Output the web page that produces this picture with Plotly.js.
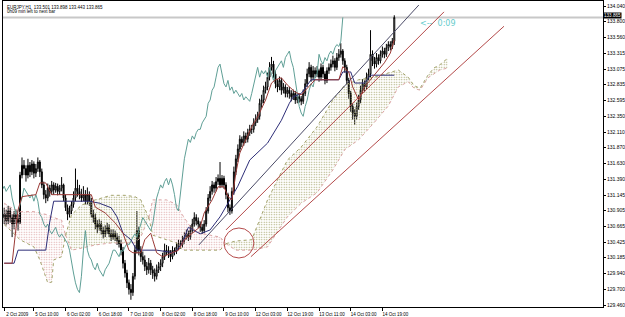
<!DOCTYPE html>
<html><head><meta charset="utf-8">
<script src="https://cdn.plot.ly/plotly-3.0.1.min.js"></script>
<style>html,body{margin:0;padding:0;background:#fff}#c{width:625px;height:317px}</style>
</head><body><div id="c"></div>
<script>
// ---- EURJPY H1 candles (bar 0 = 2 Oct 2009) ----
const opens = [130.80,130.85,130.75,130.90,130.80,130.70,130.85,130.78,130.72,131.45,
131.60,131.55,131.45,131.60,131.50,131.62,131.48,131.55,131.65,131.50,
131.30,131.15,131.10,131.25,131.20,131.30,131.22,131.28,131.20,131.25,
131.30,131.10,130.95,130.85,130.90,131.00,131.10,131.25,131.20,131.15,
131.10,131.15,131.05,131.15,131.05,130.85,130.80,130.70,130.65,130.70,
130.60,130.55,130.60,130.65,130.55,130.50,130.55,130.50,130.45,130.40,
130.30,130.10,129.95,129.80,129.70,129.65,129.90,130.30,130.60,130.30,
130.20,130.15,130.05,130.00,130.10,130.00,129.95,129.90,130.00,130.05,
130.10,130.20,130.30,130.30,130.25,130.20,130.30,130.28,130.35,130.40,
130.38,130.45,130.50,130.55,130.50,130.60,130.70,130.80,130.75,130.70,
130.65,130.60,130.70,130.90,131.10,131.20,131.30,131.25,131.35,131.40,
131.30,131.40,131.30,131.15,130.95,130.90,131.20,131.50,131.70,131.85,
132.00,131.95,132.05,132.00,132.10,132.15,132.15,132.25,132.30,132.35,
132.55,132.60,132.75,132.80,132.95,133.10,133.15,133.00,132.85,132.80,
132.90,132.75,132.80,132.70,132.75,132.70,132.65,132.70,132.60,132.65,
132.62,132.58,132.70,132.85,133.00,133.10,132.95,133.05,133.00,133.05,
132.95,133.10,133.00,132.90,133.05,133.10,133.15,133.20,133.10,133.25,
133.30,133.35,133.20,133.10,132.90,132.70,132.50,132.40,132.35,132.50,
132.60,132.75,132.85,132.80,132.95,133.00,133.30,133.20,133.15,133.25,
133.20,133.30,133.35,133.30,133.40,133.45,133.42,133.501];
const highs = [130.95,130.92,130.98,130.95,130.85,130.90,130.92,130.85,131.50,131.72,
131.68,131.60,131.70,131.65,131.68,131.66,131.62,131.72,131.68,131.55,
131.35,131.22,131.32,131.30,131.36,131.34,131.33,131.32,131.30,131.42,
131.32,131.15,131.00,130.98,131.05,131.20,131.55,131.38,131.30,131.24,
131.28,131.22,131.26,131.20,131.10,130.92,130.86,130.76,130.78,130.75,
130.66,130.68,130.72,130.70,130.62,130.62,130.60,130.56,130.52,130.46,
130.35,130.15,130.00,129.85,129.78,129.95,130.38,130.90,130.66,130.36,
130.28,130.22,130.12,130.18,130.15,130.06,130.02,130.08,130.12,130.16,
130.26,130.40,130.38,130.36,130.30,130.36,130.34,130.42,130.46,130.45,
130.52,130.58,130.62,130.60,130.68,130.78,130.88,130.85,130.80,130.74,
130.70,130.76,130.96,131.16,131.28,131.36,131.34,131.42,131.46,131.65,
131.45,131.44,131.34,131.18,131.00,131.26,131.58,131.76,131.92,132.06,
132.04,132.12,132.10,132.16,132.22,132.22,132.32,132.38,132.42,132.62,
132.68,132.82,132.88,133.02,133.18,133.26,133.20,133.05,132.92,132.96,
132.94,132.86,132.84,132.80,132.80,132.75,132.76,132.74,132.70,132.70,
132.66,132.76,132.92,133.08,133.18,133.14,133.12,133.10,133.12,133.08,
133.16,133.14,133.04,133.10,133.16,133.22,133.28,133.24,133.32,133.38,
133.47,133.38,133.24,133.14,132.94,132.74,132.55,132.46,132.56,132.68,
132.82,132.92,132.90,133.02,133.08,133.67,133.36,133.26,133.32,133.30,
133.36,133.42,133.40,133.46,133.50,133.50,133.55,133.898];
const lows = [130.70,130.68,130.70,130.72,130.50,130.62,130.70,130.60,130.70,131.40,
131.45,131.35,131.40,131.42,131.45,131.40,131.42,131.50,131.42,131.25,
131.08,131.02,131.05,131.12,131.15,131.15,131.18,131.14,131.15,131.20,
131.05,130.90,130.76,130.80,130.85,130.95,131.05,131.12,131.08,131.04,
131.05,131.00,131.00,130.98,130.80,130.72,130.62,130.56,130.60,130.54,
130.48,130.50,130.55,130.50,130.44,130.46,130.44,130.38,130.34,130.22,
130.02,129.88,129.72,129.62,129.54,129.60,129.85,130.25,130.22,130.12,
130.08,129.98,129.92,129.94,129.92,129.86,129.82,129.85,129.95,129.98,
130.04,130.15,130.22,130.18,130.12,130.16,130.22,130.24,130.30,130.32,
130.34,130.40,130.46,130.44,130.46,130.56,130.66,130.68,130.64,130.58,
130.55,130.56,130.66,130.86,131.05,131.15,131.18,131.20,131.30,131.25,
131.26,131.24,131.08,130.88,130.84,130.86,131.15,131.45,131.65,131.80,
131.88,131.90,131.94,131.95,132.05,132.08,132.10,132.20,132.25,132.30,
132.48,132.55,132.70,132.75,132.90,133.05,132.94,132.78,132.72,132.75,
132.68,132.70,132.64,132.64,132.62,132.58,132.60,132.54,132.55,132.56,
132.52,132.54,132.66,132.80,132.95,132.88,132.90,132.94,132.95,132.88,
132.90,132.94,132.84,132.86,133.00,133.05,133.10,133.04,133.06,133.20,
133.25,133.14,133.02,132.84,132.62,132.42,132.30,132.22,132.30,132.45,
132.55,132.70,132.72,132.76,132.90,132.95,133.12,133.08,133.10,133.14,
133.16,133.25,133.24,133.26,133.35,133.36,133.38,133.443];
const closes = [130.85,130.75,130.90,130.80,130.70,130.85,130.78,130.72,131.45,131.60,
131.55,131.45,131.60,131.50,131.62,131.48,131.55,131.65,131.50,131.30,
131.15,131.10,131.25,131.20,131.30,131.22,131.28,131.20,131.25,131.30,
131.10,130.95,130.85,130.90,131.00,131.10,131.25,131.20,131.15,131.10,
131.15,131.05,131.15,131.05,130.85,130.80,130.70,130.65,130.70,130.60,
130.55,130.60,130.65,130.55,130.50,130.55,130.50,130.45,130.40,130.30,
130.10,129.95,129.80,129.70,129.65,129.90,130.30,130.60,130.30,130.20,
130.15,130.05,130.00,130.10,130.00,129.95,129.90,130.00,130.05,130.10,
130.20,130.30,130.30,130.25,130.20,130.30,130.28,130.35,130.40,130.38,
130.45,130.50,130.55,130.50,130.60,130.70,130.80,130.75,130.70,130.65,
130.60,130.70,130.90,131.10,131.20,131.30,131.25,131.35,131.40,131.30,
131.40,131.30,131.15,130.95,130.90,131.20,131.50,131.70,131.85,132.00,
131.95,132.05,132.00,132.10,132.15,132.15,132.25,132.30,132.35,132.55,
132.60,132.75,132.80,132.95,133.10,133.15,133.00,132.85,132.80,132.90,
132.75,132.80,132.70,132.75,132.70,132.65,132.70,132.60,132.65,132.62,
132.58,132.70,132.85,133.00,133.10,132.95,133.05,133.00,133.05,132.95,
133.10,133.00,132.90,133.05,133.10,133.15,133.20,133.10,133.25,133.30,
133.35,133.20,133.10,132.90,132.70,132.50,132.40,132.35,132.50,132.60,
132.75,132.85,132.80,132.95,133.00,133.30,133.20,133.15,133.25,133.20,
133.30,133.35,133.30,133.40,133.45,133.42,133.501,133.865];

// ---- Ichimoku lines (bar index, price) ----
const tenkanIdx = [0,4,7,9,16,18,21,24,44,46,51,56,60,63,65,69,71,74,75,77,80,85,88,91,95,99,101,105,108,111,113,115,117,119,122,125,128,132,135,137,140,143,147,150,157,169,171,174,176,179,182,186,189,192,195,197];
const tenkanVal = [130.10,130.10,130.92,131.12,131.15,131.33,131.33,131.15,131.15,130.96,130.87,130.72,130.56,130.30,130.26,130.26,130.46,130.56,130.46,130.26,130.20,130.26,130.30,130.46,130.56,130.66,130.87,131.07,131.27,131.27,131.12,131.07,131.48,131.79,131.99,132.19,132.34,132.60,132.86,132.91,132.94,132.83,132.72,132.68,132.91,132.91,133.11,133.03,132.80,132.60,132.80,132.95,133.06,133.17,133.32,133.52];
const kijunIdx = [0,5,7,21,23,25,43,48,54,57,60,64,67,77,86,90,93,99,104,109,114,118,124,129,133,140,144,146,150,155,169,171,175,177,182,185,197];
const kijunVal = [130.10,130.10,130.30,130.30,130.73,131.05,131.05,131.02,130.95,130.81,130.56,130.46,130.30,130.30,130.26,130.41,130.65,130.55,130.61,130.81,131.07,131.28,131.68,131.83,131.94,132.29,132.55,132.65,132.70,132.91,132.91,133.03,133.03,132.86,132.86,132.98,132.98];
const chikouShift = 26;
const cloudIdx = [0,3,8,15,18,22,24,25,29,31,34,39,46,54,61,66,69,73,75,82,87,90,94,99,104,109,112,117,125,133,143,150,158,166,172,179,187,194,199,204,207,210,214,217,220,224];
const senkouA = [130.69,130.61,130.46,130.35,130.15,129.80,129.81,130.15,130.20,130.53,130.84,130.99,131.07,131.14,131.14,131.12,131.07,130.80,130.53,130.46,130.41,130.30,130.30,130.30,130.30,130.30,130.40,130.44,130.46,131.07,131.68,131.88,132.19,132.60,132.83,132.91,132.95,133.01,133.06,132.95,132.82,132.78,132.98,133.09,133.14,133.24];
const senkouB = [131.02,130.96,130.89,130.89,130.87,130.84,130.81,130.80,130.76,130.53,130.30,130.33,130.38,130.41,130.41,130.41,130.50,130.80,131.07,131.07,131.00,130.84,130.66,130.56,130.53,130.50,130.40,130.30,130.30,130.35,130.81,131.02,131.18,131.53,131.84,131.99,132.26,132.51,132.80,132.88,132.78,132.75,132.94,133.00,133.06,133.09];

// ---- drawn objects (bar index, price) ----
const trendNavyX = [98.3, 209.4],  trendNavyY = [130.38, 134.055];
const channelUpX = [112.0, 222.1], channelUpY = [130.61, 133.95];
const channelLoX = [124.6, 252.4], channelLoY = [130.20, 133.73];
const circleX = [111.0, 126.1], circleY = [130.18, 130.64];

// ---- axes ----
const xTickBars = [0,15,31,47,63,79,95,111,127,143,159,175,191];
const xTickText = ['2 Oct 2009','5 Oct 10:00','6 Oct 02:00','6 Oct 18:00','7 Oct 10:00','8 Oct 02:00','8 Oct 18:00','9 Oct 10:00','12 Oct 03:00','12 Oct 19:00','13 Oct 11:00','14 Oct 03:00','14 Oct 19:00'];
const yTicks = [134.040,133.800,133.560,133.315,133.075,132.835,132.595,132.350,132.110,131.870,131.630,131.390,131.145,130.905,130.665,130.425,130.185,129.940,129.700,129.460];

const bars = closes.map((_, i) => i);
const last = closes.length - 1;
const PINK = '#dba4a4', OLIVE = '#a3a36c';
const traces = [];

// cloud segments split at twists
(function(){
  const n = cloudIdx.length; const segs = []; let cur = [0];
  for (let k = 1; k < n; k++) {
    cur.push(k);
    if (senkouA[k] === senkouB[k] && k < n - 1) { segs.push(cur); cur = [k]; }
  }
  segs.push(cur);
  segs.forEach(s => {
    const m = s[Math.min(1, s.length - 1)];
    const bull = senkouA[m] > senkouB[m];
    const col = bull ? OLIVE : PINK;
    const xs = s.map(k => cloudIdx[k]);
    traces.push({type:'scatter', mode:'lines', x: xs, y: s.map(k => senkouB[k]),
      line:{color: PINK, width:1, dash:'dot'}, hoverinfo:'skip', showlegend:false});
    traces.push({type:'scatter', mode:'lines', x: xs, y: s.map(k => senkouA[k]),
      line:{color: OLIVE, width:1, dash:'dot'}, fill:'tonexty', fillcolor:'rgba(255,255,255,0)',
      fillpattern:{shape:'.', fgcolor: col, bgcolor:'rgba(255,255,255,0)', size:2.5, solidity:0.22},
      hoverinfo:'skip', showlegend:false});
  });
})();

traces.push({type:'scatter', mode:'lines', x: bars.map(i => i - chikouShift), y: closes,
  line:{color:'#5f9f96', width:1}, hoverinfo:'skip', showlegend:false});
traces.push({type:'scatter', mode:'lines', x: kijunIdx, y: kijunVal,
  line:{color:'#2e2e78', width:1}, hoverinfo:'skip', showlegend:false});
traces.push({type:'scatter', mode:'lines', x: tenkanIdx, y: tenkanVal,
  line:{color:'#9b3a36', width:1}, hoverinfo:'skip', showlegend:false});
traces.push({type:'candlestick', x: bars, open: opens, high: highs, low: lows, close: closes,
  increasing:{line:{color:'#000', width:1}, fillcolor:'#ffffff'},
  decreasing:{line:{color:'#000', width:1}, fillcolor:'#000000'},
  whiskerwidth:0, hoverinfo:'skip', showlegend:false});
traces.push({type:'scatter', mode:'lines', x: trendNavyX, y: trendNavyY,
  line:{color:'#4a4a66', width:1}, hoverinfo:'skip', showlegend:false});
traces.push({type:'scatter', mode:'lines', x: channelUpX, y: channelUpY,
  line:{color:'#b44a4a', width:1}, hoverinfo:'skip', showlegend:false});
traces.push({type:'scatter', mode:'lines', x: channelLoX, y: channelLoY,
  line:{color:'#b44a4a', width:1}, hoverinfo:'skip', showlegend:false});

const f3 = v => v.toFixed(3);
const layout = {
  width:625, height:317, autosize:false,
  margin:{l:3, r:22, t:1, b:10, pad:0},
  paper_bgcolor:'#fff', plot_bgcolor:'#fff', showlegend:false,
  font:{family:'Liberation Sans, Arial, sans-serif', size:5, color:'#000'},
  xaxis:{range:[-0.6, 302.4], showgrid:false, zeroline:false, showline:true, mirror:true,
    linecolor:'#000', linewidth:1, ticks:'outside', ticklen:3, tickwidth:1, tickcolor:'#000',
    tickvals:xTickBars, ticktext:xTickText, tickfont:{size:4.5}, ticklabelshift:13,
    rangeslider:{visible:false}, fixedrange:true},
  yaxis:{range:[129.4294, 134.1166], side:'right', showgrid:false, zeroline:false, showline:true,
    mirror:true, linecolor:'#000', linewidth:1, ticks:'outside', ticklen:2, tickwidth:1,
    tickcolor:'#000', tickvals:yTicks, ticktext:yTicks.map(f3), tickfont:{size:5}, fixedrange:true},
  shapes:[
    {type:'line', xref:'paper', yref:'y', x0:0, x1:1, y0:closes[last], y1:closes[last],
     line:{color:'#c8c8c8', width:2}, layer:'below'},
    {type:'circle', xref:'x', yref:'y', x0:circleX[0], x1:circleX[1], y0:circleY[0], y1:circleY[1],
     line:{color:'#b44a4a', width:1}}
  ],
  annotations:[
    {xref:'paper', yref:'paper', x:0.003, y:0.994, xanchor:'left', yanchor:'top', showarrow:false,
     text:'EURJPY,H1  ' + [opens[last], highs[last], lows[last], closes[last]].map(f3).join(' '),
     font:{size:4.5, color:'#000'}},
    {xref:'paper', yref:'paper', x:0.003, y:0.979, xanchor:'left', yanchor:'top', showarrow:false,
     text:'0h09 min left to next bar', font:{size:4.5, color:'#000'}},
    {xref:'paper', yref:'y', x:1, y:closes[last], xanchor:'left', yanchor:'middle', yshift:1.5, showarrow:false,
     text:f3(closes[last]), bgcolor:'#000', borderpad:0, font:{size:4.6, color:'#fff'}},
    {xref:'paper', yref:'paper', x:0.6917, y:0.9265, xanchor:'left', yanchor:'middle', showarrow:false,
     text:'<--  0:09', font:{family:'DejaVu Sans, sans-serif', size:8, color:'#66cccc'}}
  ]
};
Plotly.newPlot('c', traces, layout, {staticPlot:true, displayModeBar:false});
</script></body></html>
